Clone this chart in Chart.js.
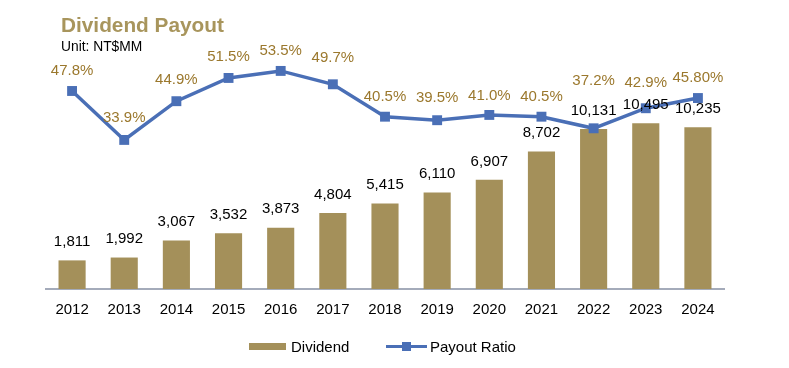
<!DOCTYPE html>
<html>
<head>
<meta charset="utf-8">
<script src="https://cdn.jsdelivr.net/npm/chart.js@4"></script>
<style>
html,body{margin:0;padding:0;background:#fff;}
#wrap{position:relative;width:789px;height:368px;font-family:"Liberation Sans",Arial,sans-serif;}
canvas{position:absolute;left:0;top:0;}
.t{position:absolute;white-space:nowrap;}
</style>
</head>
<body>
<div id="wrap">
<canvas id="c" width="789" height="368"></canvas>
<div class="t" style="left:61px;top:14.5px;font-size:20.8px;line-height:20.8px;font-weight:bold;color:#A8955C;">Dividend Payout</div>
<div class="t" style="left:61px;top:39.5px;font-size:13.8px;line-height:13.8px;color:#000;">Unit: NT$MM</div>
<div class="t" style="left:249px;top:342.5px;width:37px;height:7px;background:#A4905A;"></div>
<div class="t" style="left:291px;top:339px;font-size:15px;line-height:15px;color:#000;">Dividend</div>
<div class="t" style="left:386px;top:344.5px;width:41px;height:3px;background:#4A6FB6;"></div>
<div class="t" style="left:402px;top:341.5px;width:9px;height:9px;background:#4A6FB6;"></div>
<div class="t" style="left:430px;top:339px;font-size:15px;line-height:15px;color:#000;">Payout Ratio</div>
</div>
<script>
const categories = ["2012","2013","2014","2015","2016","2017","2018","2019","2020","2021","2022","2023","2024"];
const dividend = [1811,1992,3067,3532,3873,4804,5415,6110,6907,8702,10131,10495,10235];
const dividendLabels = ["1,811","1,992","3,067","3,532","3,873","4,804","5,415","6,110","6,907","8,702","10,131","10,495","10,235"];
const payoutRatio = [47.8,33.9,44.9,51.5,53.5,49.7,40.5,39.5,41.0,40.5,37.2,42.9,45.8];
const payoutLabels = ["47.8%","33.9%","44.9%","51.5%","53.5%","49.7%","40.5%","39.5%","41.0%","40.5%","37.2%","42.9%","45.80%"];

const BAR = '#A4905A', LINE = '#4A6FB6', PCT = '#9B782D';
const FONT = '"Liberation Sans", Arial, sans-serif';

const labelPlugin = {
  id: 'labels',
  afterDatasetsDraw(chart, args, opts) {
    const ctx = chart.ctx;
    const lift = opts.pctLift || [];
    ctx.save();
    ctx.font = '15px ' + FONT;
    ctx.textAlign = 'center';
    ctx.textBaseline = 'middle';
    const barMeta = chart.getDatasetMeta(0);
    barMeta.data.forEach((el, i) => {
      ctx.fillStyle = '#000';
      ctx.fillText(dividendLabels[i], el.x, el.y - 18.5);
    });
    const lineMeta = chart.getDatasetMeta(1);
    lineMeta.data.forEach((el, i) => {
      ctx.fillStyle = PCT;
      ctx.fillText(payoutLabels[i], el.x, el.y - (lift[i] || 21));
    });
    ctx.restore();
  }
};

new Chart(document.getElementById('c'), {
  data: {
    labels: categories,
    datasets: [
      {
        type: 'bar', label: 'Dividend', data: dividend, yAxisID: 'y',
        backgroundColor: BAR, borderWidth: 0, order: 2,
        barPercentage: 0.52, categoryPercentage: 1.0
      },
      {
        type: 'line', label: 'Payout Ratio', data: payoutRatio, yAxisID: 'y2',
        borderColor: LINE, backgroundColor: LINE, borderWidth: 3.5,
        pointStyle: 'rect', pointRadius: 7, pointHoverRadius: 7,
        pointBackgroundColor: LINE, pointBorderWidth: 0, tension: 0, order: 1
      }
    ]
  },
  options: {
    responsive: false,
    animation: false,
    devicePixelRatio: 1,
    layout: { padding: { left: 46, right: 65, top: 60, bottom: 37 } },
    plugins: {
      legend: { display: false }, tooltip: { enabled: false },
      labels: { pctLift: [20,22,21,21,20,26,20,22,19,20,47,25,20] }
    },
    scales: {
      x: {
        grid: { display: false, drawTicks: false },
        border: { display: true, color: '#A4ABBA', width: 2 },
        ticks: { color: '#000', font: { size: 15, family: FONT }, padding: 12, maxRotation: 0 },
        afterFit(s) { s.height = 42; }
      },
      y: { display: false, min: 0, max: 14494 },
      y2: { display: false, min: -8.44, max: 56.6 }
    }
  },
  plugins: [labelPlugin]
});
</script>
</body>
</html>
